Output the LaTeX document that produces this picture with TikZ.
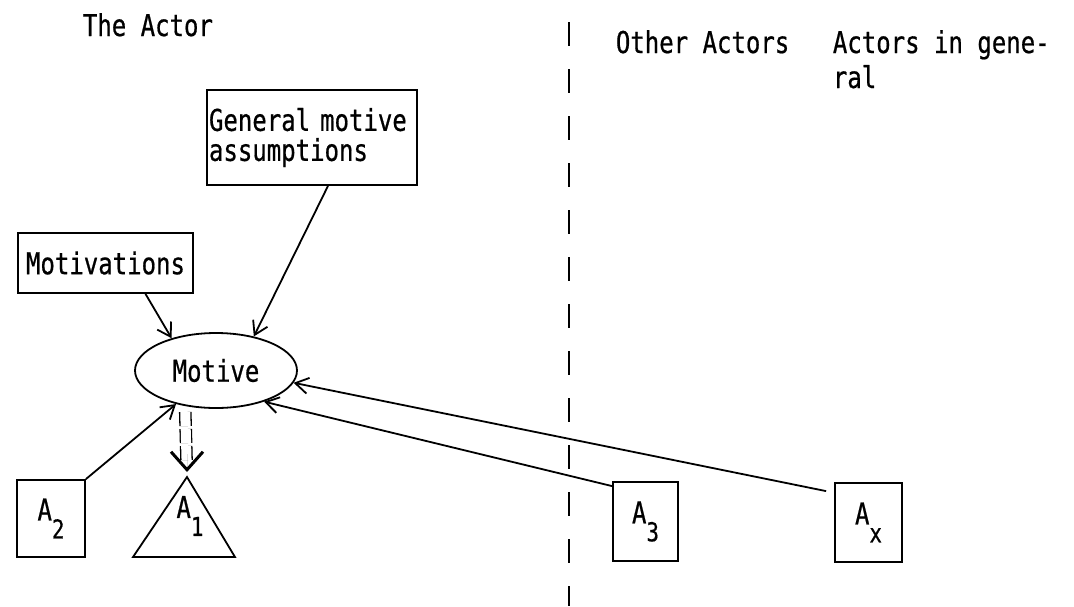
\documentclass[tikz,border=0pt]{standalone}
\usepackage{fontspec}
\newfontfamily\typer[FakeStretch=0.8, FakeBold=0.6]{DejaVu Sans Mono}
\usetikzlibrary{arrows.meta, shapes.geometric}
\tikzset{>={Straight Barb[length=13pt, width=16pt]}}
\newcommand{\lowered}[1]{\raisebox{-18pt}{\fontsize{26}{26}\selectfont #1}}

\begin{document}
\begin{tikzpicture}[x=1pt, y=-1pt, line width=1.8pt,
  font=\typer\fontsize{30}{30}\selectfont,
  box/.style={draw, inner sep=2pt},
  arr/.style={->, line width=1.8pt}]
\useasboundingbox (0,0) rectangle (1074,606);
% headings
\node[anchor=base west, inner sep=0] (actor) at (82,36) {The Actor};
\node[anchor=base west, inner sep=0] (others) at (615,53) {Other Actors};
\node[anchor=base west, inner sep=0, align=left, font=\typer\fontsize{30}{35}\selectfont] (general) at (832,88) {Actors in gene-\\ral};
\draw[dash pattern=on 24pt off 23pt, line width=2.6pt] (569,22) coordinate (divtop) -- (569,606) coordinate (divbot);
% the actor
\node[box, text width=206, align=left, minimum height=95, inner xsep=2pt] (assume) at (312,137.5) {General motive\\assumptions};
\node[box, minimum width=175, minimum height=60] (motiv) at (105.5,263) {Motivations};
\node[draw, ellipse, minimum width=162, minimum height=75, inner sep=0] (motive) at (216,370.5) {Motive};
\node[box, minimum width=68, minimum height=77] (a2) at (51,518.5) {A\lowered{2}};
\coordinate (a1top) at (187,477);
\draw (a1top) -- (133,557) -- (235,557) -- cycle;
\node[inner sep=0] (a1) at (190,516) {A\lowered{1}};
% other actors
\node[box, minimum width=65, minimum height=79] (a3) at (645.5,521.5) {A\lowered{3}};
\node[box, minimum width=67, minimum height=79] (ax) at (868.5,522.5) {A\lowered{x}};
% influences on the motive
\draw[arr] ([xshift=40pt]motiv.south) -- (motive.144);
\draw[arr] ([xshift=16pt]assume.south) -- (motive.42);
\draw[arr] (a2.north east) -- (motive.220);
\draw[arr] ([yshift=-5pt]a3.north west) -- (motive.-33);
\draw[arr] ([xshift=-8pt, yshift=-9pt]ax.north west) -- (motive.-9);
% motive leads to the action
\draw[double, double distance=10pt, line width=1.3pt, dash pattern=on 14pt off 3pt,
  shorten <=6pt, shorten >=14pt] (motive.229) -- (a1top);
\draw[line width=0.01pt, -{Straight Barb[length=18pt, width=32pt, line width=3pt]}]
  ([yshift=23pt]a1top) -- ([yshift=5pt]a1top);
\end{tikzpicture}
\end{document}
